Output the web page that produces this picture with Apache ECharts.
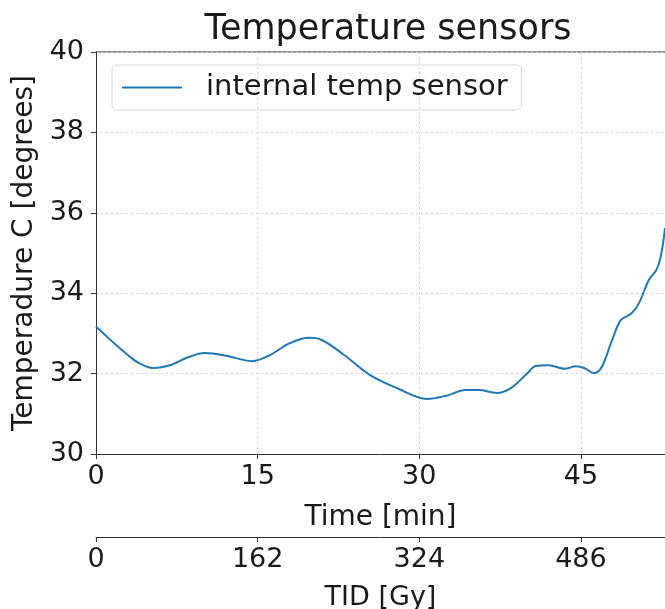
<!DOCTYPE html>
<html>
<head>
<meta charset="utf-8">
<script src="https://cdn.jsdelivr.net/npm/echarts@6/dist/echarts.min.js"></script>
<style>
  html, body { margin: 0; padding: 0; background: #fff; }
  #chart { width: 665px; height: 609px; }
</style>
</head>
<body>
<div id="chart"></div>
<script>
// time in minutes, temperature in degrees C
const timeMin = [0, 1, 2, 3, 4, 5.3, 7, 8.5, 10.1, 12, 14.5, 16, 18, 19.8, 21, 23, 25.4, 28, 30.7, 32.5,
  34.3, 35.5, 37.2, 38.5, 40, 40.8, 42, 43.5, 44.5, 45.3, 46.2, 46.9, 47.9, 48.7, 49.7, 50.4, 51.3, 52.0, 52.4, 52.8];
const tempC = [33.17, 32.92, 32.68, 32.45, 32.26, 32.14, 32.22, 32.4, 32.51, 32.45, 32.31, 32.44, 32.76, 32.89, 32.83, 32.47, 31.97, 31.63, 31.37, 31.45,
  31.59, 31.59, 31.52, 31.64, 32.0, 32.19, 32.21, 32.12, 32.18, 32.14, 32.01, 32.15, 32.84, 33.33, 33.5, 33.76, 34.33, 34.58, 34.9, 35.62];
const timeTicks = [0, 15, 30, 45];
const tidTicks = [0, 162, 324, 486];
const tidPerMin = 10.8;
const xMax = 52.8;

const font = 'DejaVu Sans';
const ink = '#1a1a1a';

const chart = echarts.init(document.getElementById('chart'));
chart.setOption({
  animation: false,
  title: {
    text: 'Temperature sensors',
    left: 383,
    top: 7,
    textAlign: 'center',
    textStyle: { fontFamily: font, fontSize: 35, fontWeight: 'normal', color: ink }
  },
  legend: {
    data: ['internal temp sensor'],
    left: 112,
    top: 65,
    padding: [8, 14, 8, 10],
    itemWidth: 60,
    itemHeight: 2,
    icon: 'rect',
    borderColor: '#d8d8d8',
    borderWidth: 1,
    borderRadius: 5,
    textStyle: { fontFamily: font, fontSize: 29, color: ink, padding: [0, 0, 0, 19] }
  },
  grid: { left: 96, right: 0, top: 52, bottom: 155, outerBoundsMode: 'none', containLabel: false },
  xAxis: [
    {
      type: 'value',
      min: 0,
      max: xMax,
      interval: 15,
      name: 'Time [min]',
      nameLocation: 'middle',
      nameGap: 50,
      nameTextStyle: { fontFamily: font, fontSize: 28, color: ink },
      axisLine: { onZero: false, lineStyle: { color: '#333', width: 1 } },
      axisTick: { show: true, length: 5, inside: false, lineStyle: { color: '#333' } },
      axisLabel: {
        fontFamily: font, fontSize: 27, color: ink, margin: 9, showMaxLabel: false,
        formatter: v => timeTicks.includes(v) ? String(v) : ''
      },
      splitLine: { show: true, lineStyle: { color: '#cfcfcf', type: [2, 3], width: 1 } }
    },
    {
      type: 'value',
      position: 'bottom',
      offset: 83,
      min: 0,
      max: xMax * tidPerMin,
      interval: 162,
      name: 'TID [Gy]',
      nameLocation: 'middle',
      nameGap: 47,
      nameTextStyle: { fontFamily: font, fontSize: 27, color: ink },
      axisLine: { onZero: false, lineStyle: { color: '#333', width: 1 } },
      axisTick: { show: true, length: 5, lineStyle: { color: '#333' } },
      axisLabel: {
        fontFamily: font, fontSize: 27, color: ink, margin: 9, showMaxLabel: false,
        formatter: v => tidTicks.includes(v) ? String(v) : ''
      },
      splitLine: { show: false }
    }
  ],
  yAxis: {
    type: 'value',
    min: 30,
    max: 40,
    interval: 2,
    name: 'Temperadure C [degrees]',
    nameLocation: 'middle',
    nameGap: 52,
    nameTextStyle: { fontFamily: font, fontSize: 28, color: ink },
    axisLine: { show: true, lineStyle: { color: '#333', width: 1 } },
    axisTick: { show: true, length: 5, lineStyle: { color: '#333' } },
    axisLabel: { fontFamily: font, fontSize: 27, color: ink, margin: 12 },
    splitLine: { show: true, lineStyle: { color: '#cfcfcf', type: [2, 3], width: 1 } }
  },
  graphic: [
    { type: 'line', shape: { x1: 96, y1: 52, x2: 665, y2: 52 }, style: { stroke: '#333', lineWidth: 1 } }
  ],
  series: [
    {
      name: 'internal temp sensor',
      type: 'line',
      xAxisIndex: 0,
      data: timeMin.map((t, i) => [t, tempC[i]]),
      smooth: 0.35,
      showSymbol: false,
      lineStyle: { color: '#1f77b4', width: 2 },
      itemStyle: { color: '#1f77b4' }
    }
  ]
});
</script>
</body>
</html>
